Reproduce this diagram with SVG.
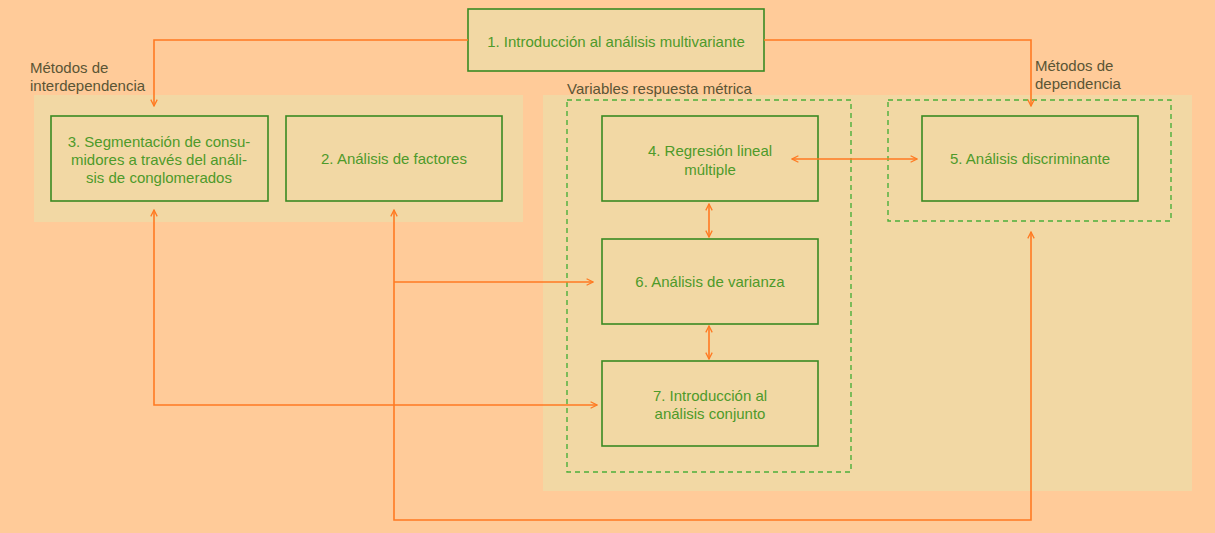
<svg xmlns="http://www.w3.org/2000/svg" width="1215" height="533" viewBox="0 0 1215 533">
<style>
.panel{fill:#F2D8A4}
.box{fill:#F2D8A4;stroke:#3A8A22;stroke-width:1.6}
.dash{fill:none;stroke:#4CAF3A;stroke-width:1.4;stroke-dasharray:5,4}
.t{font-family:"Liberation Sans",Arial,sans-serif;font-size:15px;fill:#4E9A2A;text-anchor:middle}
.lbl{font-family:"Liberation Sans",Arial,sans-serif;font-size:15px;fill:#5A5535}
.c{fill:none;stroke:#FF7A22;stroke-width:1.6}
</style>
<defs>
<marker id="ah" viewBox="0 0 10 10" refX="9" refY="5" markerWidth="8" markerHeight="8" markerUnits="userSpaceOnUse" orient="auto-start-reverse">
<path d="M1,1 L9,5 L1,9" fill="none" stroke="#FF7A22" stroke-width="1.6"/>
</marker>
</defs>
<rect width="1215" height="533" fill="#FFCB99"/>
<rect class="panel" x="34" y="95" width="489" height="127"/>
<rect class="panel" x="543" y="95" width="649" height="396"/>
<g id="groups">
<rect class="dash" x="567" y="100" width="284" height="372"/>
<rect class="dash" x="888" y="100" width="283" height="121"/>
<text class="lbl" x="567" y="94">Variables respuesta métrica</text>
<text class="lbl" x="30" y="73">Métodos de</text>
<text class="lbl" x="30" y="91">interdependencia</text>
<text class="lbl" x="1035" y="71">Métodos de</text>
<text class="lbl" x="1035" y="89">dependencia</text>
</g>
<g id="n1"><rect class="box" x="468" y="9" width="296" height="62"/><text class="t" x="616" y="47">1. Introducción al análisis multivariante</text></g>
<g id="n3"><rect class="box" x="51" y="116" width="217" height="85"/><text class="t" x="159" y="147">3. Segmentación de consu-</text><text class="t" x="159" y="165">midores a través del análi-</text><text class="t" x="159" y="183">sis de conglomerados</text></g>
<g id="n2"><rect class="box" x="286" y="116" width="216" height="85"/><text class="t" x="394" y="164">2. Análisis de factores</text></g>
<g id="n4"><rect class="box" x="602" y="116" width="216" height="85"/><text class="t" x="710" y="156">4. Regresión lineal</text><text class="t" x="710" y="175">múltiple</text></g>
<g id="n5"><rect class="box" x="922" y="116" width="216" height="85"/><text class="t" x="1030" y="164">5. Análisis discriminante</text></g>
<g id="n6"><rect class="box" x="602" y="239" width="216" height="85"/><text class="t" x="710" y="287">6. Análisis de varianza</text></g>
<g id="n7"><rect class="box" x="602" y="361" width="216" height="85"/><text class="t" x="710" y="401">7. Introducción al</text><text class="t" x="710" y="419">análisis conjunto</text></g>
<g id="connectors">
<path class="c" d="M468,40 H154 V106" marker-end="url(#ah)"/>
<path class="c" d="M764,40 H1031 V106" marker-end="url(#ah)"/>
<path class="c" d="M792,159 H917" marker-start="url(#ah)" marker-end="url(#ah)"/>
<path class="c" d="M709,204 V237" marker-start="url(#ah)" marker-end="url(#ah)"/>
<path class="c" d="M709,326 V359" marker-start="url(#ah)" marker-end="url(#ah)"/>
<path class="c" d="M154,210 V405 H597" marker-start="url(#ah)" marker-end="url(#ah)"/>
<path class="c" d="M394,210 V520 H1031 V232" marker-start="url(#ah)" marker-end="url(#ah)"/>
<path class="c" d="M394,282 H593" marker-end="url(#ah)"/>
</g>
</svg>
